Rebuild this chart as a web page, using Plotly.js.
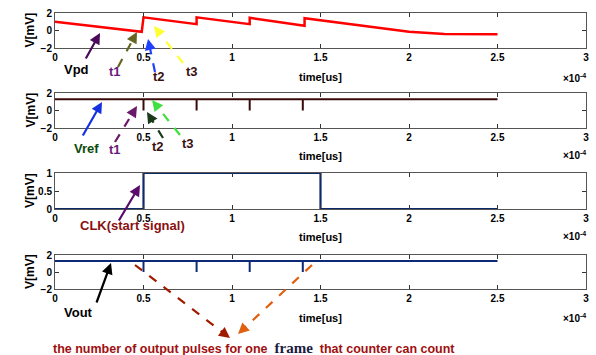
<!DOCTYPE html>
<html><head><meta charset="utf-8">
<script src="https://cdn.plot.ly/plotly-3.0.1.min.js"></script>
<style>html,body{margin:0;padding:0;background:#fff}#g{width:596px;height:355px}</style>
</head><body><div id="g"></div>
<script>
// time in units of 1e-4 s
const vpdT = [0, 0.49, 0.5, 0.8, 0.8, 1.1, 1.1, 1.41, 1.41, 2.0, 2.2, 2.5];
const vpdV = [1.0, -0.15, 1.5, 0.72, 1.5, 0.72, 1.45, 0.55, 1.4, -0.15, -0.4, -0.42];
const vrefT = [0, 0.5, 0.5, 0.5, 0.8, 0.8, 0.8, 1.1, 1.1, 1.1, 1.4, 1.4, 1.4, 2.5];
const vrefV = [1.3, 1.3, 0.0, 1.3, 1.3, 0.0, 1.3, 1.3, 0.0, 1.3, 1.3, 0.0, 1.3, 1.3];
const clkT = [0, 0.5, 0.5, 1.5, 1.5, 2.5];
const clkV = [0, 0, 1, 1, 0, 0];
const voutT = [0, 0.5, 0.5, 0.5, 0.8, 0.8, 0.8, 1.1, 1.1, 1.1, 1.4, 1.4, 1.4, 2.5];
const voutV = [1.3, 1.3, 0.0, 1.3, 1.3, 0.0, 1.3, 1.3, 0.0, 1.3, 1.3, 0.0, 1.3, 1.3];
const xTickVals = [0, 0.5, 1, 1.5, 2, 2.5, 3];
const xTickText = ['0', '0.5', '1', '1.5', '2', '2.5', '3'];
const yTicksA = [-2, 0, 2];
const yTicksClk = [0, 0.5, 1];

const L = 55, R = 10, T = 13, B = 66, W = 596, H = 355;
const PW = W - L - R, PH = H - T - B;
const X = px => (px - L) / PW;
const Y = py => (H - B - py) / PH;

const bold = {family: 'Liberation Sans, Arial, sans-serif', weight: 'bold'};
function xax(anchor, so) {
  return {domain: [0, 1], anchor: anchor, range: [0, 3], tickvals: xTickVals, ticktext: xTickText,
    ticks: 'inside', ticklen: 4, tickcolor: '#333', mirror: 'allticks', showline: true, linecolor: '#555', linewidth: 1,
    showgrid: false, zeroline: false, tickfont: Object.assign({size: 10, color: '#000'}, bold),
    title: {text: 'time[us]', font: Object.assign({size: 11, color: '#000'}, bold), standoff: so}};
}
function yax(anchor, dom, range, tv) {
  return {domain: dom, anchor: anchor, range: range, tickvals: tv,
    ticks: 'inside', ticklen: 4, tickcolor: '#333', mirror: 'allticks', showline: true, linecolor: '#555', linewidth: 1,
    showgrid: false, zeroline: false, tickfont: Object.assign({size: 10, color: '#000'}, bold)};
}

const traces = [
  {x: vpdT, y: vpdV, xaxis: 'x', yaxis: 'y', mode: 'lines', line: {color: '#ff0000', width: 2.5}},
  {x: vrefT, y: vrefV, xaxis: 'x2', yaxis: 'y2', mode: 'lines', line: {color: '#3a0a0a', width: 2}},
  {x: clkT, y: clkV, xaxis: 'x3', yaxis: 'y3', mode: 'lines', line: {color: '#0c2a6a', width: 2.2}},
  {x: voutT, y: voutV, xaxis: 'x4', yaxis: 'y4', mode: 'lines', line: {color: '#0c2a78', width: 2}}
];

const ann = [], shapes = [];
function txt(px, py, s, color, size, extra) {
  ann.push(Object.assign({xref: 'paper', yref: 'paper', x: X(px), y: Y(py), text: s, showarrow: false,
    xanchor: 'center', yanchor: 'middle', font: Object.assign({size: size, color: color}, bold)}, extra || {}));
}
function arrow(x0, y0, x1, y1, color, dashed) {
  if (!dashed) {
    ann.push({xref: 'paper', yref: 'paper', x: X(x1), y: Y(y1), ax: x0 - x1, ay: y0 - y1, text: '',
      showarrow: true, arrowhead: 2, arrowsize: 1, arrowwidth: 2.2, arrowcolor: color});
  } else {
    const dx = x0 - x1, dy = y0 - y1, len = Math.hypot(dx, dy);
    const hx = x1 + dx / len * 7, hy = y1 + dy / len * 7;
    shapes.push({type: 'line', xref: 'paper', yref: 'paper', x0: X(x0), y0: Y(y0), x1: X(hx), y1: Y(hy),
      line: {color: color, width: 2.2, dash: 'dash'}});
    ann.push({xref: 'paper', yref: 'paper', x: X(x1), y: Y(y1), ax: dx / len * 8, ay: dy / len * 8, text: '',
      showarrow: true, arrowhead: 2, arrowsize: 1, arrowwidth: 2.2, arrowcolor: color});
  }
}
// y axis titles
[[13, 48], [93, 128], [173, 209], [255, 289]].forEach(([a, b]) =>
  txt(30, (a + b) / 2, 'V[mV]', '#000', 12, {textangle: -90}));
// x10^-4 labels
[78, 155, 236, 318].forEach(py => txt(588, py, '×10<sup>-4</sup>', '#000', 10, {xanchor: 'right'}));

// panel 1
txt(76, 69, 'Vpd', '#000', 13);
txt(115, 72, 't1', '#6a1a7a', 13);
txt(159, 76, 't2', '#3a1010', 13);
txt(192, 71, 't3', '#3a1010', 13);
arrow(85, 60, 100, 33, '#4a0a5a', false);
arrow(118, 67, 137, 32, '#666622', true);
arrow(155, 72, 148, 39, '#2040ff', true);
arrow(183, 63, 154, 26, '#ffff33', true);
// panel 2
txt(86, 148, 'Vref', '#0a4a0a', 13);
txt(115, 149, 't1', '#6a1a7a', 13);
txt(158, 146, 't2', '#3a1010', 13);
txt(188, 143, 't3', '#3a1010', 13);
arrow(82, 137, 102, 102, '#1530e0', false);
arrow(115, 142, 137, 106, '#6a1a6a', true);
arrow(163, 138, 147, 112, '#1a3a1a', true);
arrow(180, 135, 152, 100, '#40e040', true);
// panel 3
txt(132, 225, 'CLK(start signal)', '#8a1010', 13);
arrow(118, 222, 140, 185, '#5a0a6a', false);
// panel 4
txt(78, 312, 'Vout', '#000', 13);
arrow(96, 304, 111, 263, '#000000', false);
arrow(135, 265, 230, 338, '#a01a00', true);
arrow(312, 265, 238, 334, '#e06010', true);
txt(254, 348, 'the number of output pulses for one  <span style="font-family:Liberation Serif;color:#1a1a40;font-size:15px">frame</span>  that counter can count', '#a01010', 12.5);

const layout = {
  width: W, height: H, margin: {l: L, r: R, t: T, b: B}, showlegend: false,
  paper_bgcolor: '#fff', plot_bgcolor: '#fff',
  xaxis: xax('y', 11), yaxis: yax('x', [Y(48), Y(13)], [-2, 2], yTicksA),
  xaxis2: xax('y2', 10), yaxis2: yax('x2', [Y(128), Y(93)], [-2, 2], yTicksA),
  xaxis3: xax('y3', 10), yaxis3: yax('x3', [Y(209), Y(173)], [0, 1], yTicksClk),
  xaxis4: xax('y4', 11), yaxis4: yax('x4', [Y(289), Y(255)], [-2, 2], yTicksA),
  annotations: ann, shapes: shapes
};
Plotly.newPlot('g', traces, layout, {staticPlot: true, displayModeBar: false});
</script></body></html>
